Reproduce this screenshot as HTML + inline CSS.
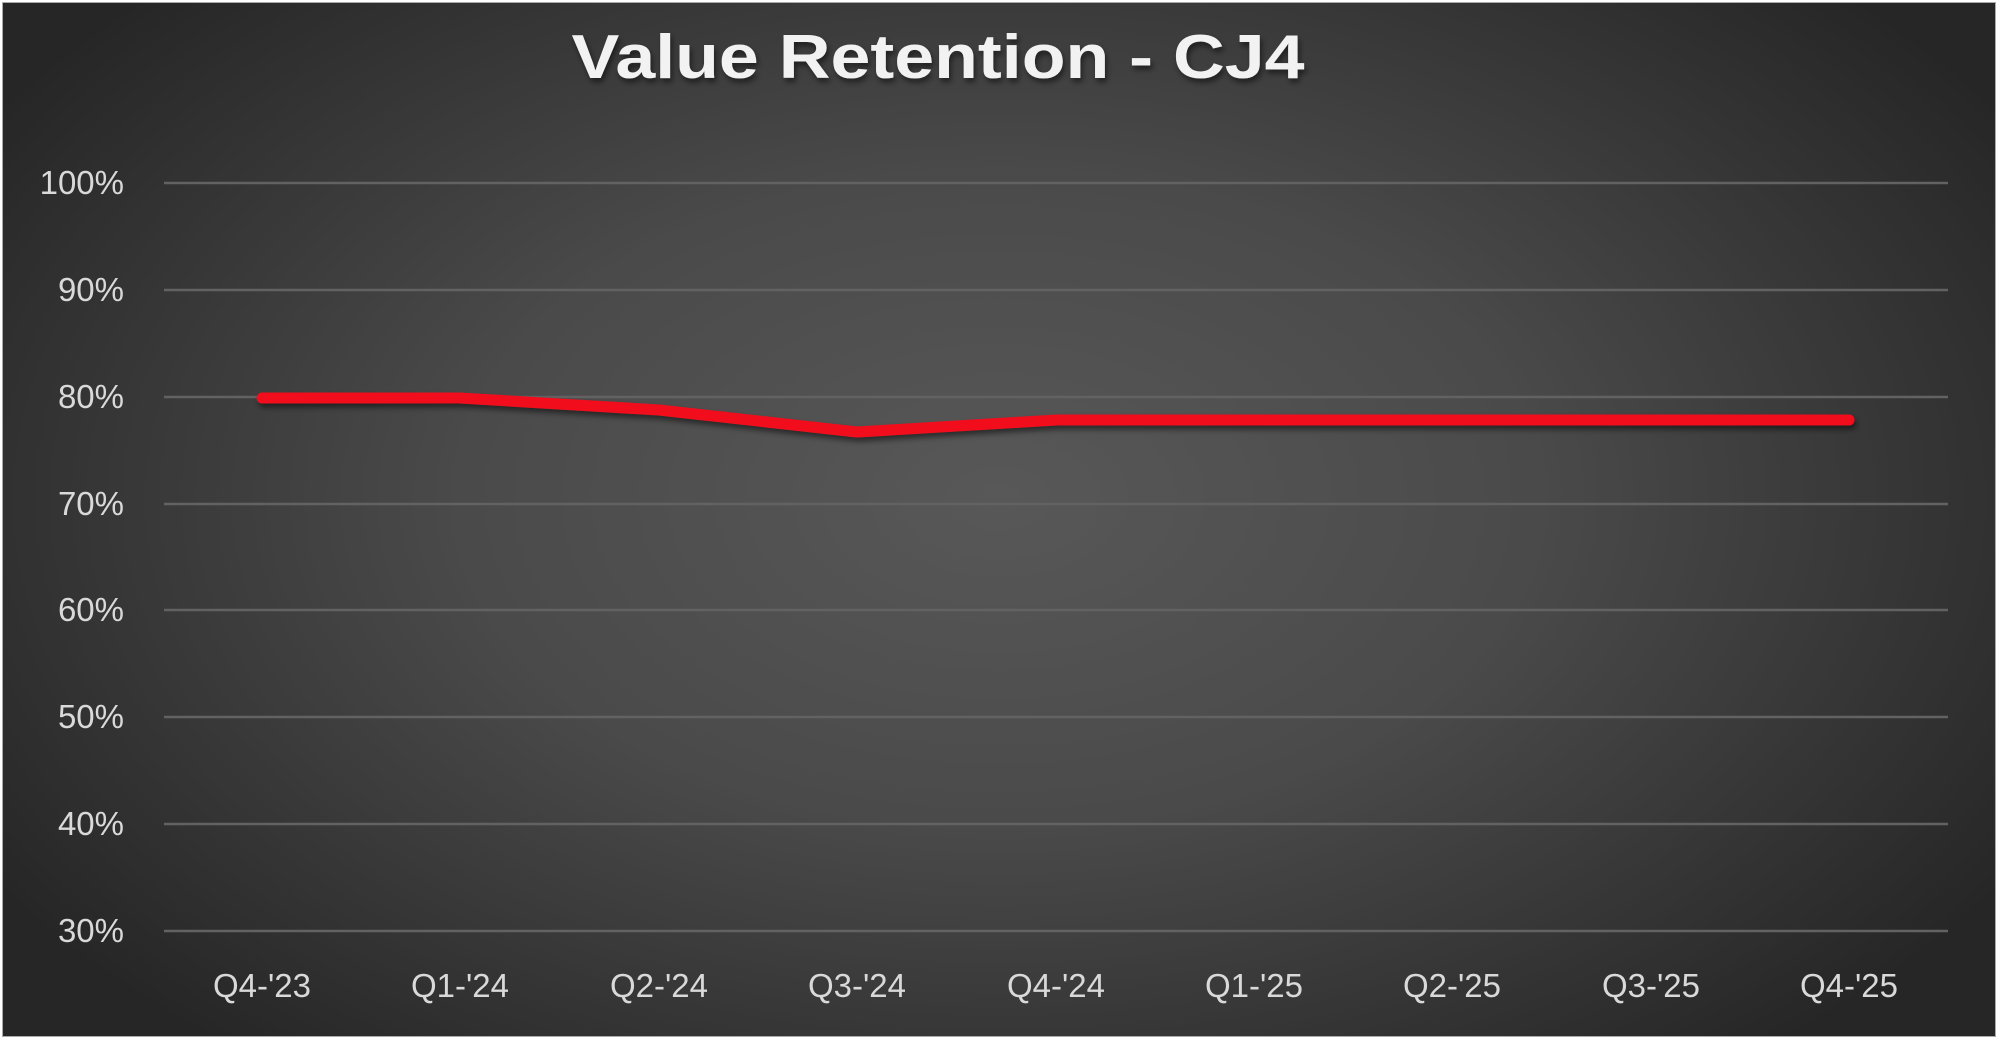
<!DOCTYPE html>
<html><head><meta charset="utf-8"><style>
html,body{margin:0;padding:0;background:#fff;}
body{width:2002px;height:1040px;overflow:hidden;position:relative;}
#c{position:absolute;left:2px;top:2px;width:1992px;height:1033px;border:1px solid #aaa;
background:radial-gradient(ellipse 60% 70% at 50% 48%,#585858 0%,#4a4a4a 45%,#333 80%,#262626 100%);}
svg{position:absolute;left:0;top:0;}
</style></head><body>
<div id="c"></div>
<svg width="2002" height="1040" viewBox="0 0 2002 1040">
<defs><filter id="sh" x="-5%" y="-50%" width="110%" height="200%"><feDropShadow dx="2" dy="4" stdDeviation="3" flood-color="#000" flood-opacity="0.5"/></filter></defs>
<text x="938" y="78" text-anchor="middle" textLength="733" lengthAdjust="spacingAndGlyphs" font-family="Liberation Sans, sans-serif" font-weight="bold" font-size="62" fill="#f2f2f2" filter="url(#sh)">Value Retention - CJ4</text>
<g stroke="#626262" stroke-width="2.5">
<line x1="164" x2="1948" y1="183" y2="183"/><line x1="164" x2="1948" y1="290" y2="290"/>
<line x1="164" x2="1948" y1="397" y2="397"/><line x1="164" x2="1948" y1="504" y2="504"/>
<line x1="164" x2="1948" y1="610" y2="610"/><line x1="164" x2="1948" y1="717" y2="717"/>
<line x1="164" x2="1948" y1="824" y2="824"/><line x1="164" x2="1948" y1="931" y2="931"/>
</g>
<g font-family="Liberation Sans, sans-serif" font-size="33" fill="#d9d9d9" text-anchor="end">
<text x="124" y="194">100%</text><text x="124" y="301">90%</text><text x="124" y="408">80%</text>
<text x="124" y="515">70%</text><text x="124" y="621">60%</text><text x="124" y="728">50%</text>
<text x="124" y="835">40%</text><text x="124" y="942">30%</text>
</g>
<g font-family="Liberation Sans, sans-serif" font-size="33" fill="#d9d9d9" text-anchor="middle">
<text x="262" y="997">Q4-'23</text><text x="460" y="997">Q1-'24</text><text x="659" y="997">Q2-'24</text>
<text x="857" y="997">Q3-'24</text><text x="1056" y="997">Q4-'24</text><text x="1254" y="997">Q1-'25</text>
<text x="1452" y="997">Q2-'25</text><text x="1651" y="997">Q3-'25</text><text x="1849" y="997">Q4-'25</text>
</g>
<polyline filter="url(#sh)" fill="none" stroke="#f20f1c" stroke-width="11" stroke-linecap="round" stroke-linejoin="round"
points="262,398 460,398 659,410 857,432 1056,420 1254,420 1452,420 1651,420 1849,420"/>
</svg>
</body></html>
